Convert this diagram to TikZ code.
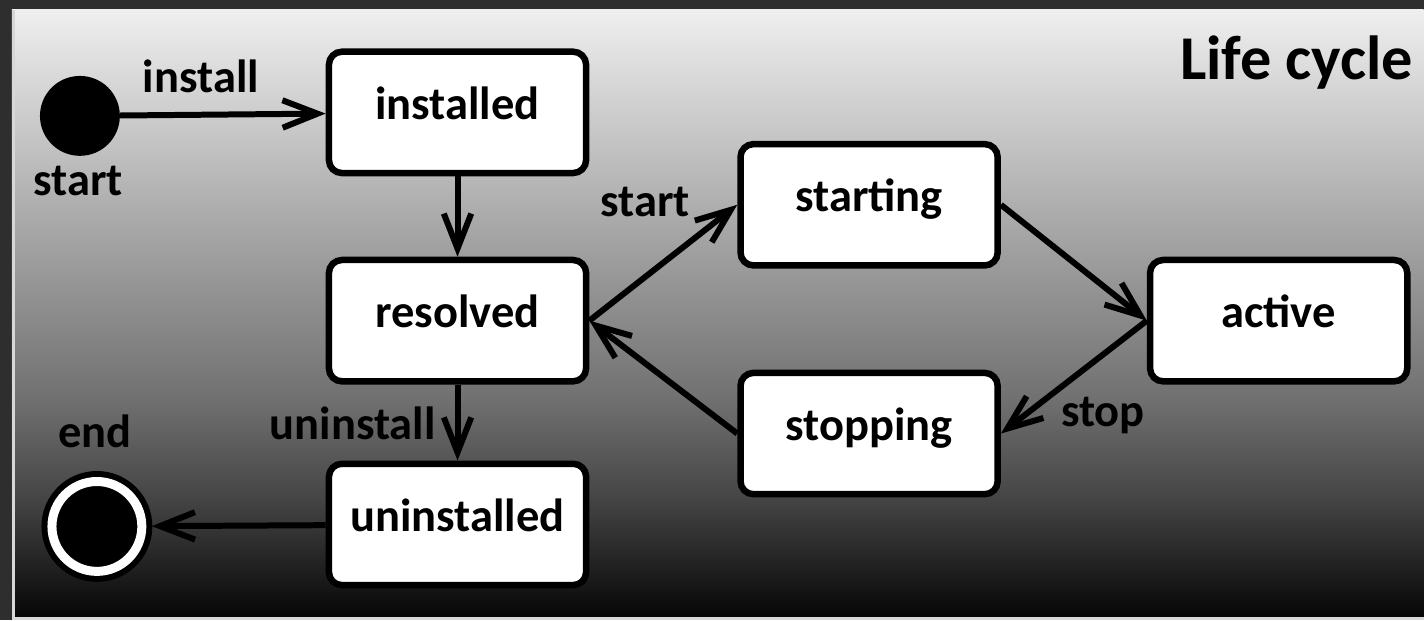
\documentclass[tikz,border=0pt]{standalone}
\usepackage{fontspec}
\setmainfont{Carlito}
\usetikzlibrary{arrows.meta}
\definecolor{framebg}{RGB}{46,46,46}
\definecolor{edgegray}{RGB}{215,215,215}
\definecolor{shadeA}{RGB}{239,239,239}
\definecolor{shadeB}{RGB}{176,176,176}
\definecolor{shadeC}{RGB}{112,112,112}
\definecolor{shadeD}{RGB}{68,68,68}
\definecolor{shadeE}{RGB}{5,5,5}
\pgfdeclareverticalshading{lifecycle}{100bp}{color(0bp)=(shadeE); color(25bp)=(shadeE); color(34.8bp)=(shadeD); color(43bp)=(shadeC); color(59.4bp)=(shadeB); color(75bp)=(shadeA); color(100bp)=(shadeA)}

\begin{document}
\begin{tikzpicture}[x=0.02cm, y=-0.02cm,
    state/.style={draw, fill=white, line width=0.13cm, rounded corners=0.26cm, minimum width=5.15cm, minimum height=2.43cm, text height=0.56cm, text depth=0.28cm, font=\fontsize{26.5}{30}\selectfont\bfseries},
    lbl/.style={anchor=base, inner sep=0pt, font=\fontsize{26.5}{30}\selectfont\bfseries},
    trans/.style={line width=0.12cm, -{Straight Barb[length=0.7cm, width=0.55cm]}}]
        \fill[framebg] (0,0) rectangle (1425,621);
        \shade[shading=lifecycle] (12,10) rectangle (1425,620);
        \draw[edgegray, line width=0.06cm] (13.5,10) -- (13.5,619.5) -- (1425,619.5);

        \node[circle, fill, minimum size=1.6cm, inner sep=0pt] (init) at (80,116) {};
        \node[circle, fill, draw, double=white, double distance=0.18cm, line width=0.12cm, minimum size=1.8cm, inner sep=0pt, outer sep=0.2cm] (final) at (97,527) {};

        \node[state] (installed) at (458,112.5) {installed};
        \node[state] (resolved) at (458,321) {resolved};
        \node[state] (uninstalled) at (458,525) {uninstalled};
        \node[state] (starting) at (870,205) {starting};
        \node[state] (stopping) at (870,434) {stopping};
        \node[state] (active) at (1280,321) {active};

        \node[lbl, font=\fontsize{35.5}{40}\selectfont\bfseries] (title) at (1298,80) {Life cycle};
        \node[lbl] (initlbl) at (78,196) {start};
        \node[lbl] (finallbl) at (95,448) {end};
        \node[lbl] (installlbl) at (201,93) {install};
        \node[lbl] (uninstalllbl) at (353,440) {uninstall};
        \node[lbl] (startlbl) at (646,217) {start};
        \node[lbl] (stoplbl) at (1104,427) {stop};

        \draw[trans] (init) -- (installed);
        \draw[trans] (installed) -- (resolved);
        \draw[trans] (resolved) -- (uninstalled);
        \draw[trans] (uninstalled) -- (final);
        \draw[trans] (resolved.east) -- (starting.west);
        \draw[trans] (starting.east) -- (active.west);
        \draw[trans] (active.west) -- (stopping.east);
        \draw[trans] (stopping.west) -- (resolved.east);
      \end{tikzpicture}
\end{document}
